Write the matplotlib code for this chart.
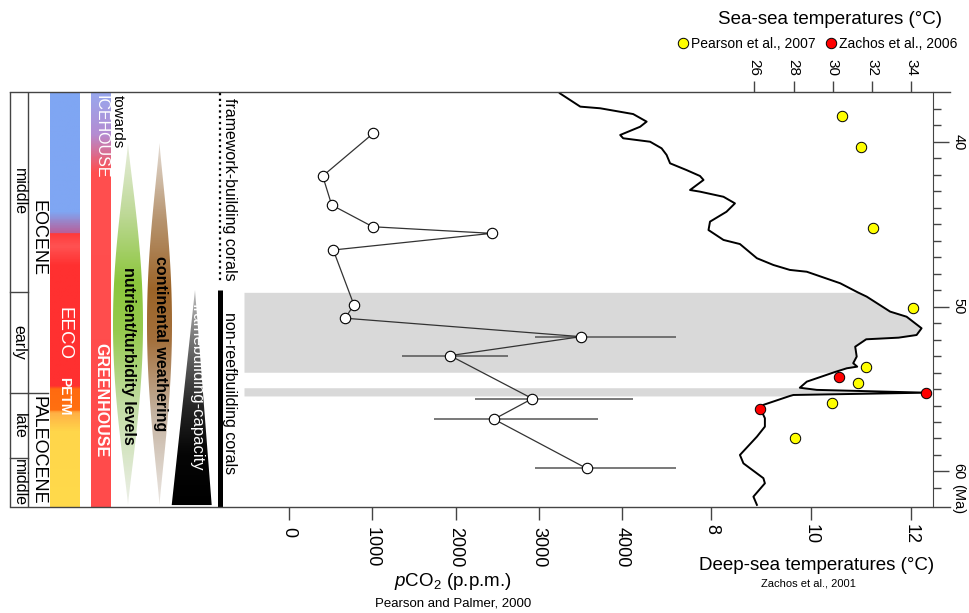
import numpy as np
import matplotlib
matplotlib.use('Agg')
import matplotlib.pyplot as plt
from matplotlib.colors import LinearSegmentedColormap
from matplotlib.patches import Polygon
from matplotlib.lines import Line2D

plt.rcParams['font.family'] = ['Liberation Sans', 'DejaVu Sans']
plt.rcParams['mathtext.fontset'] = 'custom'
plt.rcParams['mathtext.rm'] = 'Liberation Sans'
plt.rcParams['mathtext.it'] = 'Liberation Sans:italic'

# --- data (ages in Ma) ---
# pCO2 (Pearson and Palmer, 2000)
co2_age = [39.48, 42.07, 43.83, 45.15, 45.55, 46.56, 49.90, 50.70, 51.82, 52.97, 55.58, 56.83, 59.82]
co2_ppm = [1011, 403, 511, 1004, 2435, 530, 779, 671, 3509, 1934, 2924, 2463, 3578]
err_age = [51.82, 52.97, 55.58, 56.83, 59.82]
err_lo = [2958, 1360, 2237, 1745, 2956]
err_hi = [4652, 2635, 4138, 3717, 4652]

# deep-sea temperatures (Zachos et al., 2001)
deep_age = [37.05, 37.86, 37.96, 38.31, 38.77, 39.08, 39.58, 39.78, 39.99, 40.39,
            40.79, 41.30, 41.71, 42.07, 42.31, 42.92, 43.02, 43.33, 43.73, 44.24,
            44.84, 45.35, 45.95, 46.20, 47.06, 47.47, 47.77, 47.88, 48.58, 49.13,
            49.39, 50.30, 50.61, 51.31, 51.72, 51.88, 51.98, 52.43, 53.03, 53.43,
            53.64, 53.74, 53.98, 54.55, 54.92, 55.05, 55.22, 55.36, 55.42, 55.96,
            56.19, 56.77, 57.28, 57.89, 59.00, 59.51, 60.41, 60.72, 61.53, 62.03]
deep_temp = [4.96, 5.37, 5.77, 6.43, 6.70, 6.57, 6.17, 6.23, 6.77, 7.00,
             7.10, 7.17, 7.50, 7.77, 7.84, 7.57, 7.77, 8.24, 8.47, 8.30,
             7.97, 7.94, 8.24, 8.57, 8.91, 9.24, 9.57, 9.91, 10.58, 10.93,
             11.11, 11.58, 11.91, 12.21, 12.11, 11.75, 11.10, 10.88, 10.91, 10.84,
             10.92, 10.71, 10.46, 9.91, 9.77, 10.11, 12.30, 9.64, 9.57, 9.04,
             8.98, 9.07, 9.07, 8.91, 8.57, 8.64, 9.04, 9.07, 8.84, 8.91]

# sea-surface temperatures
pearson_age = [38.43, 40.33, 45.24, 50.06, 53.68, 54.65, 55.83, 57.99]
pearson_sst = [30.45, 31.44, 32.06, 34.10, 31.69, 31.30, 29.97, 28.06]
zachos_age = [54.28, 55.22, 56.19]
zachos_sst = [30.32, 34.75, 26.31]

# shaded intervals
shade_top = [49.13, 54.92]
shade_bottom = [53.98, 55.42]

# stratigraphy
sub_names = ['middle', 'early', 'late', 'middle']
sub_bounds = [36.99, 49.09, 55.25, 59.20, 62.14]
epoch_names = ['EOCENE', 'PALEOCENE']
epoch_bounds = [36.99, 55.25, 62.14]

AGE_TOP, AGE_BOT = 36.99, 62.14
W, H = 969, 613


def fx(px):
    return px / W


def fy(py):
    return 1 - py / H


fig = plt.figure(figsize=(9.69, 6.13), dpi=100)
fig.patch.set_facecolor('white')

ax = fig.add_axes([fx(244), fy(506.7), (932.7 - 244) / W, (506.7 - 92.3) / H])
ax.set_facecolor('none')
ax2 = ax.twiny()
ax3 = ax.twiny()

# deep-sea curve + grey intervals
deep_age_a = np.array(deep_age)
deep_temp_a = np.array(deep_temp)
xl_temp = (-1.369, 12.433)
for t0, t1 in zip(shade_top, shade_bottom):
    m = (deep_age_a >= t0) & (deep_age_a <= t1)
    ax.fill_betweenx(deep_age_a, xl_temp[0], deep_temp_a, where=m,
                     color='#d9d9d9', lw=0, zorder=1)
ax.plot(deep_temp, deep_age, color='black', lw=1.4, zorder=3)
ax.set_xlim(*xl_temp)
ax.set_ylim(AGE_BOT, AGE_TOP)

# pCO2
ax2.hlines(err_age, err_lo, err_hi, color='#555555', lw=1.1, zorder=2)
ax2.plot(co2_ppm, co2_age, color='#333333', lw=0.9, marker='o', ms=7.5,
         mfc='white', mec='black', mew=0.8, zorder=3)
ax2.set_xlim(-543.6, 7739)

# SST
ax3.plot(pearson_sst, pearson_age, ls='none', marker='o', ms=7.5,
         mfc='#ffff00', mec='black', mew=0.7, zorder=4)
ax3.plot(zachos_sst, zachos_age, ls='none', marker='o', ms=7.5,
         mfc='#ff0000', mec='black', mew=0.7, zorder=4)
ax3.set_xlim(0.005, 35.09)

tick_col = '#444444'
for a in (ax, ax2, ax3):
    for s in a.spines.values():
        s.set_visible(False)
ax.spines['right'].set_visible(True)
ax.spines['right'].set_color(tick_col)

# deep-sea axis (bottom)
ax.xaxis.set_ticks_position('bottom')
ax.set_xticks([8, 10, 12])
ax.tick_params(axis='x', direction='out', length=9.5, width=1, color=tick_col,
               labelsize=13, labelrotation=-90, pad=3)
# age axis (right)
ax.yaxis.set_ticks_position('right')
ax.set_yticks([40, 50, 60])
ax.set_yticks(np.arange(38, 62), minor=True)
ax.tick_params(axis='y', which='major', direction='out', length=11.5, width=1,
               color=tick_col, labelsize=10.5, labelrotation=-90, pad=2)
ax.tick_params(axis='y', which='minor', direction='out', length=5.8, width=1,
               color=tick_col)
for lbl in ax.get_yticklabels():
    lbl.set_va('center')
ax.annotate('(Ma)', xy=(1, 60), xycoords=('axes fraction', 'data'),
            xytext=(13.5, -9), textcoords='offset points', rotation=-90,
            ha='left', va='top', fontsize=10.5, annotation_clip=False)

# pCO2 axis (bottom)
ax2.xaxis.set_ticks_position('bottom')
ax2.set_xticks([0, 1000, 2000, 3000, 4000])
ax2.tick_params(axis='x', direction='out', length=9.5, width=1, color=tick_col,
                labelsize=13, labelrotation=-90, pad=5,
                labelbottom=True, labeltop=False)
# SST axis (top)
ax3.xaxis.set_ticks_position('top')
ax3.set_xticks([26, 28, 30, 32, 34])
ax3.tick_params(axis='x', direction='out', length=7.6, width=1, color=tick_col,
                labelsize=11, labelrotation=-90, pad=4,
                labeltop=True, labelbottom=False)

# frame lines
for py in (92.3, 506.7):
    fig.add_artist(Line2D([fx(10), fx(950)], [fy(py), fy(py)], color=tick_col, lw=1))

# --- left panel ---
axl = fig.add_axes([0, fy(506.7), fx(244), (506.7 - 92.3) / H], sharey=ax)
axl.set_xlim(0, 244)
axl.axis('off')


def gradient(x0, x1, stops, clip=None):
    pos = [(a - AGE_TOP) / (AGE_BOT - AGE_TOP) for a, _ in stops]
    cmap = LinearSegmentedColormap.from_list('g', list(zip(pos, [c for _, c in stops])))
    img = cmap(np.linspace(0, 1, 500))[:, None, :]
    im = axl.imshow(img, extent=(x0, x1, AGE_BOT, AGE_TOP), origin='upper',
                    aspect='auto', interpolation='bilinear', zorder=1)
    if clip is not None:
        axl.add_patch(clip)
        im.set_clip_path(clip)
    return im


# climate bar (EECO / PETM)
gradient(50, 80, [(AGE_TOP, '#7fa6f3'), (44.2, '#7fa6f3'), (45.5, '#b8609a'),
                  (45.55, '#ff3a3a'), (46.3, '#ff5252'), (47.5, '#ff3030'),
                  (54.93, '#ff3030'), (54.95, '#ff6a10'), (56.35, '#ff7010'),
                  (56.45, '#ffae45'), (57.6, '#ffd64a'), (AGE_BOT, '#ffda4a')])
# icehouse / greenhouse bar
gradient(90.7, 110, [(AGE_TOP, '#98a8ee'), (39.5, '#b48cd2'), (41.8, '#ff4f4f'),
                     (AGE_BOT, '#ff4b4b')])


def spindle(xc, half, a0, a1, n=80):
    t = np.linspace(0, 1, n)
    a = a0 + (a1 - a0) * t
    w = half * np.sin(np.pi * t) ** 1.1
    return np.column_stack([np.concatenate([xc - w, (xc + w)[::-1]]),
                            np.concatenate([a, a[::-1]])])


green = Polygon(spindle(128, 15, 40.1, 62.04), closed=True, fc='none', ec='none')
gradient(110, 146, [(AGE_TOP, '#eef2e6'), (40.5, '#e4ecd6'), (44.5, '#bcd894'),
                    (48.5, '#8cc63c'), (51.5, '#96ca4e'), (56, '#c2dca4'),
                    (AGE_BOT, '#eef0ea')], clip=green)
brown = Polygon(spindle(159.5, 12.5, 40.07, 62.04), closed=True, fc='none', ec='none')
gradient(144, 176, [(AGE_TOP, '#ece6e0'), (40.5, '#e0d6cc'), (44.5, '#b89672'),
                    (49, '#9c6428'), (52, '#a4703c'), (56.5, '#c4b2a0'),
                    (AGE_BOT, '#ece8e4')], clip=brown)
tri = Polygon([(195, 48.99), (171.7, 62.04), (211.7, 62.04)], closed=True,
              fc='none', ec='none')
gradient(170, 213, [(AGE_TOP, '#c0c0c0'), (49, '#bdbdbd'), (52, '#767676'),
                    (56, '#262626'), (59, '#050505'), (AGE_BOT, '#000000')], clip=tri)

# coral ranges
axl.plot([220, 220], [37.04, 48.5], color='black', lw=1.6, ls=(0, (1, 1.6)))
axl.plot([220, 220], [49.0, AGE_BOT], color='black', lw=3.6, solid_capstyle='butt')

# stratigraphic columns
line_kw = dict(color=tick_col, lw=1)
axl.plot([10, 10], [AGE_TOP, AGE_BOT], **line_kw)
axl.plot([28, 28], [AGE_TOP, AGE_BOT], **line_kw)
for b in sub_bounds[1:-1]:
    axl.plot([10, 28], [b, b], **line_kw)
for b in epoch_bounds[1:-1]:
    axl.plot([28, 48], [b, b], **line_kw)
for name, a0, a1 in zip(sub_names, sub_bounds[:-1], sub_bounds[1:]):
    axl.text(19, (a0 + a1) / 2, name, rotation=-90, ha='center', va='center', fontsize=11.5)
for name, a0, a1 in zip(epoch_names, epoch_bounds[:-1], epoch_bounds[1:]):
    axl.text(37.5, (a0 + a1) / 2 - 0.3 * (name == 'EOCENE'), name, rotation=-90,
             ha='center', va='center', fontsize=13)

txt = dict(rotation=-90, ha='center')
axl.text(64, 51.65, 'EECO', color='white', va='center', fontsize=13.5, **txt)
axl.text(64, 55.45, 'PETM', color='white', va='center', fontsize=10, fontweight='bold', **txt)
axl.text(100.5, 37.15, 'ICEHOUSE', color='white', va='top', fontsize=11.5, **txt)
axl.text(100.5, 52.2, 'GREENHOUSE', color='white', va='top', fontsize=11.5,
         fontweight='bold', **txt)
axl.text(118, 37.15, 'towards', color='black', va='top', fontsize=11, **txt)
axl.text(128, 47.6, 'nutrient/turbidity levels', color='black', va='top',
         fontsize=11.5, fontweight='bold', **txt)
axl.text(160, 46.95, 'continental weathering', color='black', va='top',
         fontsize=11.5, fontweight='bold', **txt)
axl.text(197, 49.8, 'framebuilding-capacity', color='white', va='top', fontsize=12, **txt)
axl.text(229, 37.35, 'framework-building corals', color='black', va='top', fontsize=11.5, **txt)
axl.text(229, 50.35, 'non-reefbuilding corals', color='black', va='top', fontsize=11.5, **txt)
axl.set_ylim(AGE_BOT, AGE_TOP)

# --- titles / labels ---
fig.text(fx(830), fy(20), 'Sea-sea temperatures (°C)', ha='center', va='center', fontsize=13.5)
h_p = Line2D([], [], ls='none', marker='o', ms=7.5, mfc='#ffff00', mec='black', mew=0.7)
h_z = Line2D([], [], ls='none', marker='o', ms=7.5, mfc='#ff0000', mec='black', mew=0.7)
fig.legend([h_p, h_z], ['Pearson et al., 2007', 'Zachos et al., 2006'],
           loc='center right', bbox_to_anchor=(fx(957), fy(44)), ncol=2,
           frameon=False, fontsize=10, handlelength=0.8, handletextpad=0.15,
           columnspacing=0.7, borderpad=0, borderaxespad=0)

fig.text(fx(453), fy(582), r'$\mathit{p}$CO$_2$ (p.p.m.)', ha='center', va='center', fontsize=13.5)
fig.text(fx(453), fy(604), 'Pearson and Palmer, 2000', ha='center', va='center', fontsize=9.5)
fig.text(fx(817), fy(566), 'Deep-sea temperatures (°C)', ha='center', va='center', fontsize=13.5)
fig.text(fx(808), fy(583), 'Zachos et al., 2001', ha='center', va='center', fontsize=8)

fig.savefig('out.png', dpi=100, facecolor='white')
